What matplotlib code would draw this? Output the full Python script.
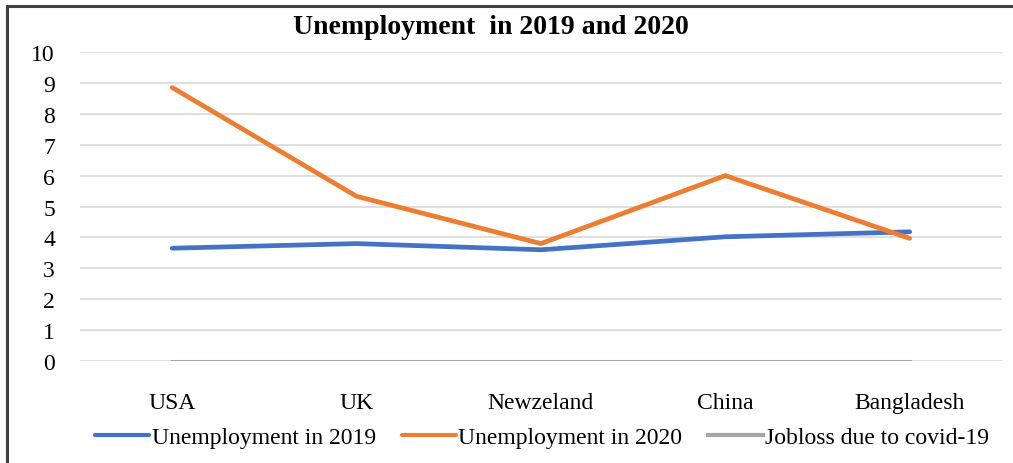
import matplotlib
matplotlib.use("Agg")
import matplotlib.pyplot as plt
from matplotlib.patches import Rectangle

countries = ["USA", "UK", "Newzeland", "China", "Bangladesh"]
unemp_2019 = [3.65, 3.8, 3.6, 4.02, 4.18]
unemp_2020 = [8.85, 5.33, 3.8, 6.0, 3.97]
jobloss = [0, 0, 0, 0, 0]
y_ticks = [0, 1, 2, 3, 4, 5, 6, 7, 8, 9, 10]

plt.rcParams['font.family'] = ['Liberation Serif', 'DejaVu Serif']

fig = plt.figure(figsize=(10.13, 4.64), dpi=100)
ax = fig.add_axes([0.079, 0.2198, 0.91, 0.666])

x = range(len(countries))
ax.plot(x, unemp_2019, color='#4472C4', linewidth=3.4, solid_capstyle='round', label='Unemployment in 2019')
ax.plot(x, unemp_2020, color='#ED7D31', linewidth=3.4, solid_capstyle='round', label='Unemployment in 2020')
ax.plot(x, jobloss, color='#A5A5A5', linewidth=2.2, label='Jobloss due to covid-19')

ax.set_xlim(-0.5, len(countries) - 0.5)
ax.set_ylim(0, 10)
ax.set_yticks(y_ticks)
ax.set_xticks(list(x))
ax.set_xticklabels(countries)
ax.tick_params(axis='both', length=0, labelsize=17)
ax.tick_params(axis='y', pad=18)
ax.tick_params(axis='x', pad=22)
ax.grid(axis='y', color='#D9D9D9', linewidth=1.2)
ax.set_axisbelow(True)
for s in ax.spines.values():
    s.set_visible(False)

fig.text(0.485, 0.94, 'Unemployment  in 2019 and 2020', ha='center', va='center',
         fontsize=20, fontweight='bold')

leg = fig.legend(loc='center', bbox_to_anchor=(0.535, 0.055), ncol=3, frameon=False,
                 fontsize=17, handlelength=2.3, handletextpad=0.1, columnspacing=1.1)
for h in leg.get_lines():
    h.set_linewidth(3.0)

# outer frame (only top and left edges show in the crop)
fig.patches.append(Rectangle((0.007, -0.05), 1.2, 1.035, transform=fig.transFigure,
                             fill=False, edgecolor='#404040', linewidth=2.2))

fig.savefig("out.png", dpi=100)
